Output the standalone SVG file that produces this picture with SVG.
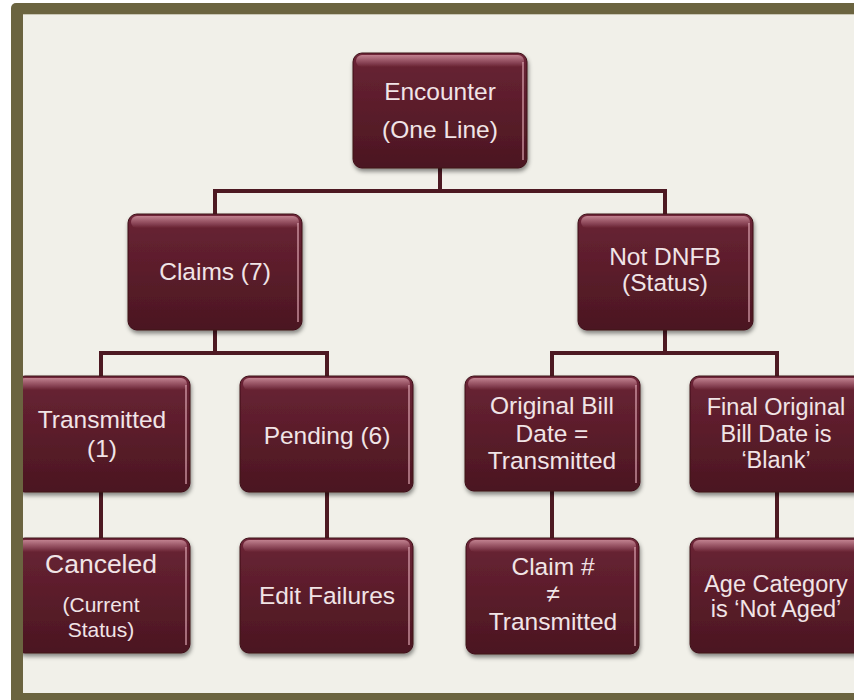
<svg xmlns="http://www.w3.org/2000/svg" width="854" height="700" viewBox="0 0 854 700">
<defs>
<linearGradient id="nodeFill" x1="0" y1="0" x2="0" y2="1">
<stop offset="0" stop-color="#70263a"/>
<stop offset="0.12" stop-color="#662232"/>
<stop offset="1" stop-color="#4b1621"/>
</linearGradient>
<linearGradient id="gloss" x1="0" y1="0" x2="0" y2="1">
<stop offset="0" stop-color="#c98a98" stop-opacity="0.9"/>
<stop offset="1" stop-color="#c98a98" stop-opacity="0"/>
</linearGradient>
<filter id="shadow" x="-10%" y="-10%" width="125%" height="130%">
<feDropShadow dx="1" dy="3" stdDeviation="2" flood-color="#000" flood-opacity="0.45"/>
</filter>
<clipPath id="inner"><rect x="23" y="14" width="840" height="679"/></clipPath>
</defs>
<style>
.node rect.box{fill:url(#nodeFill);stroke:#3e1018;stroke-width:1;filter:url(#shadow)}
.node rect.gl{fill:url(#gloss)}
.node path.hl{fill:none;stroke:#e0a9b5;stroke-width:1.5;stroke-opacity:0.8}
.node text{font-family:"Liberation Sans",Arial,sans-serif;font-size:24.5px;fill:#f1e4e6;text-anchor:middle}
.node text.big{font-size:26.5px}
.node text.small{font-size:21px}
.node text.mid{font-size:23.5px}
#connectors path{fill:none;stroke:#4d1922;stroke-width:4}
</style>
<rect x="0" y="0" width="854" height="700" fill="#ffffff"/>
<rect x="11" y="3" width="900" height="760" rx="5" fill="#6b6440"/>
<rect x="23" y="14" width="900" height="679" fill="#f1f0e9"/>
<line x1="23" y1="14.5" x2="854" y2="14.5" stroke="#c9c6b4" stroke-width="1"/>
<g clip-path="url(#inner)">
<g id="connectors">
<path d="M440 168 V191 M213 191 H667 M215 191 V214 M665 191 V214"/>
<path d="M215 330 V353 M99 353 H329 M101 353 V376 M327 353 V376"/>
<path d="M665 330 V353 M550 353 H779 M552 353 V376 M777 353 V376"/>
<path d="M101 492 V538 M327 492 V538 M552 491 V538 M777 492 V538"/>
</g>
<g id="n-encounter" class="node">
<rect class="box" x="353" y="53" width="174" height="115" rx="9"/>
<rect class="gl" x="356" y="55" width="168" height="12" rx="6"/>
<path class="hl" d="M523 62 V160"/>
<text x="440" y="100">Encounter</text>
<text x="440" y="138">(One Line)</text>
</g>
<g id="n-claims" class="node">
<rect class="box" x="128" y="214" width="174" height="116" rx="9"/>
<rect class="gl" x="131" y="216" width="168" height="12" rx="6"/>
<path class="hl" d="M298 223 V322"/>
<text x="215" y="280">Claims (7)</text>
</g>
<g id="n-notdnfb" class="node">
<rect class="box" x="578" y="214" width="175" height="116" rx="9"/>
<rect class="gl" x="581" y="216" width="169" height="12" rx="6"/>
<path class="hl" d="M749 223 V322"/>
<text x="665" y="265">Not DNFB</text>
<text x="665" y="291">(Status)</text>
</g>
<g id="n-transmitted" class="node">
<rect class="box" x="16" y="376" width="174" height="116" rx="9"/>
<rect class="gl" x="19" y="378" width="168" height="12" rx="6"/>
<path class="hl" d="M186 385 V484"/>
<text x="102" y="428">Transmitted</text>
<text x="102" y="457">(1)</text>
</g>
<g id="n-pending" class="node">
<rect class="box" x="240" y="376" width="173" height="116" rx="9"/>
<rect class="gl" x="243" y="378" width="167" height="12" rx="6"/>
<path class="hl" d="M409 385 V484"/>
<text x="327" y="444">Pending (6)</text>
</g>
<g id="n-original" class="node">
<rect class="box" x="465" y="376" width="175" height="115" rx="9"/>
<rect class="gl" x="468" y="378" width="169" height="12" rx="6"/>
<path class="hl" d="M636 385 V483"/>
<text x="552" y="414">Original Bill</text>
<text x="552" y="442">Date =</text>
<text x="552" y="469">Transmitted</text>
</g>
<g id="n-final" class="node">
<rect class="box" x="690" y="376" width="174" height="116" rx="9"/>
<rect class="gl" x="693" y="378" width="168" height="12" rx="6"/>
<text class="mid" x="776" y="415">Final Original</text>
<text class="mid" x="776" y="442">Bill Date is</text>
<text class="mid" x="776" y="468">‘Blank’</text>
</g>
<g id="n-canceled" class="node">
<rect class="box" x="16" y="538" width="174" height="115" rx="9"/>
<rect class="gl" x="19" y="540" width="168" height="12" rx="6"/>
<path class="hl" d="M186 547 V645"/>
<text class="big" x="101" y="573">Canceled</text>
<text class="small" x="101" y="612">(Current</text>
<text class="small" x="101" y="637">Status)</text>
</g>
<g id="n-edit" class="node">
<rect class="box" x="240" y="538" width="173" height="115" rx="9"/>
<rect class="gl" x="243" y="540" width="167" height="12" rx="6"/>
<path class="hl" d="M409 547 V645"/>
<text x="327" y="604">Edit Failures</text>
</g>
<g id="n-claimno" class="node">
<rect class="box" x="466" y="538" width="173" height="116" rx="9"/>
<rect class="gl" x="469" y="540" width="167" height="12" rx="6"/>
<path class="hl" d="M635 547 V646"/>
<text x="553" y="575">Claim #</text>
<text x="553" y="602">≠</text>
<text x="553" y="630">Transmitted</text>
</g>
<g id="n-age" class="node">
<rect class="box" x="690" y="538" width="174" height="115" rx="9"/>
<rect class="gl" x="693" y="540" width="168" height="12" rx="6"/>
<text class="mid" x="776" y="592">Age Category</text>
<text class="mid" x="776" y="617">is ‘Not Aged’</text>
</g>
</g>
</svg>
